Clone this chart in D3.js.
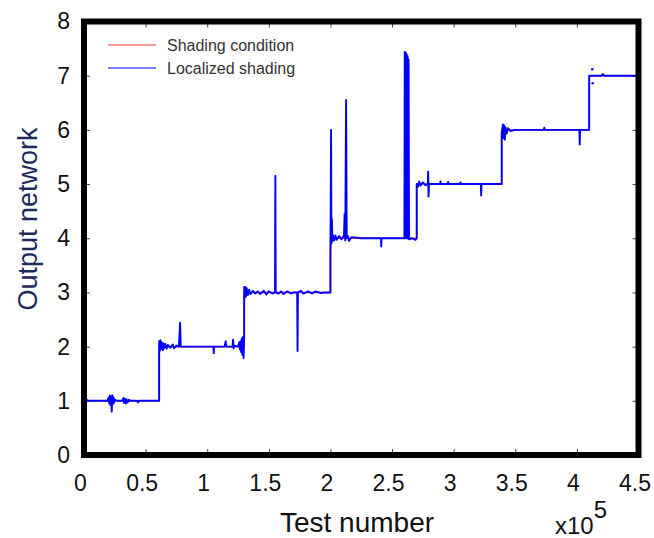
<!DOCTYPE html>
<html lang="en">
<head>
<meta charset="UTF-8">
<script src="https://d3js.org/d3.v7.min.js"></script>
<title>Output network</title>
<style>
  body { margin: 0; background: #fff; }
  .axis text { font-family: Arial, "Liberation Sans", sans-serif; font-size: 23px; fill: #111; }
  .axis line { stroke: #444; stroke-width: 1; }
  .legend text { font-family: Arial, "Liberation Sans", sans-serif; font-size: 16px; fill: #333; }
</style>
</head>
<body>
<script>
// x in units of 10^5 tests
var xTicks = [0, 0.5, 1, 1.5, 2, 2.5, 3, 3.5, 4, 4.5];
var yTicks = [0, 1, 2, 3, 4, 5, 6, 7, 8];

// shading condition (target steps)
var conditionX = [0, 0.61, 0.61, 1.30, 1.30, 2.0, 2.0, 2.70, 2.70, 3.39, 3.39, 4.10, 4.10, 4.5];
var conditionY = [1, 1, 2, 2, 3, 3, 4, 4, 5, 5, 6, 6, 7, 7];

// localized shading (network output)
var localized = [
  [0.00,1.00],[0.005,1.15],[0.01,0.98],[0.02,1.03],[0.03,1.0],[0.12,1.0],[0.19,1.0],
  [0.20,1.06],[0.205,0.95],[0.21,1.1],[0.215,0.92],[0.22,1.08],[0.225,0.80],[0.23,1.1],[0.235,0.94],[0.24,1.06],[0.245,0.97],[0.25,1.02],[0.27,1.0],
  [0.31,1.0],[0.32,1.05],[0.325,0.96],[0.33,1.04],[0.34,0.95],[0.345,1.03],[0.355,0.97],[0.365,1.02],[0.37,1.0],[0.43,1.0],[0.44,0.97],[0.445,1.0],[0.61,1.0],
  [0.61,2.10],[0.615,1.92],[0.62,2.12],[0.625,1.95],[0.63,2.08],[0.64,1.93],[0.645,2.06],[0.65,1.97],[0.66,2.05],[0.67,1.96],[0.68,2.03],[0.70,1.98],[0.72,2.04],[0.73,1.97],[0.75,2.02],[0.77,2.0],[0.78,2.44],[0.785,2.0],
  [0.95,2.0],[1.05,2.0],[1.053,1.88],[1.056,2.0],[1.14,2.0],[1.15,2.1],[1.155,2.0],[1.205,2.0],[1.21,2.13],[1.215,1.97],[1.22,2.02],
  [1.25,2.0],[1.26,2.08],[1.265,1.95],[1.27,2.1],[1.275,1.9],[1.28,2.15],[1.285,1.85],[1.29,2.18],[1.295,1.79],[1.30,2.2],
  [1.30,3.10],[1.305,2.9],[1.31,3.1],[1.315,2.93],[1.32,3.08],[1.33,2.95],[1.34,3.05],[1.35,2.97],[1.37,3.03],[1.39,2.98],[1.41,3.02],[1.43,2.97],[1.46,3.03],
  [1.48,2.96],[1.50,3.02],[1.53,2.98],[1.55,3.0],[1.553,5.15],[1.556,3.0],[1.58,2.98],[1.60,3.02],[1.62,2.97],[1.65,3.02],[1.68,2.98],[1.70,3.0],
  [1.73,3.0],[1.733,1.92],[1.736,3.0],[1.76,3.03],[1.78,2.98],[1.82,3.02],[1.85,2.98],[1.88,3.02],[1.92,2.99],[1.95,3.0],[2.0,3.0],
  [2.0,3.63],[2.005,6.0],[2.008,3.9],[2.012,4.35],[2.016,3.95],[2.02,4.06],[2.03,3.96],[2.04,4.05],[2.05,3.97],[2.07,4.04],[2.09,3.98],[2.11,4.05],
  [2.115,4.45],[2.12,3.96],[2.127,6.55],[2.132,4.0],[2.14,4.05],[2.15,3.95],[2.17,4.02],[2.25,4.0],[2.41,4.0],[2.412,3.85],[2.415,4.0],[2.5,4.0],[2.6,4.0],
  [2.603,7.44],[2.606,4.0],[2.610,7.43],[2.614,4.0],[2.618,7.40],[2.622,4.0],[2.626,7.36],[2.630,4.0],[2.634,7.30],[2.638,3.98],
  [2.66,4.0],[2.69,3.97],[2.70,4.0],
  [2.70,5.0],[2.71,4.95],[2.72,5.05],[2.73,4.97],[2.75,5.03],[2.77,4.98],[2.79,5.0],[2.793,5.23],[2.796,4.77],[2.80,5.0],[2.89,5.0],[2.893,5.05],[2.897,5.0],
  [2.95,5.0],[2.955,5.04],[2.96,5.0],[3.05,5.0],[3.055,5.03],[3.06,5.0],[3.22,5.0],[3.223,4.79],[3.226,5.0],[3.39,5.0],
  [3.39,5.95],[3.40,6.1],[3.405,5.85],[3.41,6.08],[3.415,5.82],[3.42,6.05],[3.43,5.93],[3.44,6.03],[3.46,5.98],[3.5,6.0],[3.73,6.0],[3.735,6.04],[3.74,6.0],
  [4.02,6.0],[4.023,5.73],[4.026,6.0],[4.10,6.0],
  [4.10,7.0],[4.20,7.0],[4.21,7.03],[4.22,7.0],[4.5,7.0]
];
// stray samples near the last step, drawn as dots
var strayX = [4.125, 4.128];
var strayY = [7.12, 6.86];

var width = 654, height = 538;
var plotLeft = 84, plotRight = 638.5, plotTop = 21.5, plotBottom = 455;

var x = d3.scaleLinear().domain([0, 4.5]).range([plotLeft, plotRight]);
var y = d3.scaleLinear().domain([0, 8]).range([plotBottom, plotTop]);

var svg = d3.select("body").append("svg")
    .attr("width", width)
    .attr("height", height);

var fmt = function(d) { return String(d); };

// inward ticks on all four sides
svg.append("g").attr("class", "axis")
    .attr("transform", "translate(" + plotLeft + ",0)")
    .call(d3.axisLeft(y).tickValues(yTicks).tickSizeInner(-6).tickSizeOuter(0).tickPadding(14).tickFormat(fmt));
svg.append("g").attr("class", "axis")
    .attr("transform", "translate(" + plotRight + ",0)")
    .call(d3.axisRight(y).tickValues(yTicks).tickSizeInner(-6).tickSizeOuter(0).tickFormat(""));
var xAxisG = svg.append("g").attr("class", "axis")
    .attr("transform", "translate(0," + plotBottom + ")")
    .call(d3.axisBottom(x).tickValues(xTicks).tickSizeInner(-6).tickSizeOuter(0).tickPadding(20).tickFormat(fmt));
xAxisG.selectAll("text").attr("dx", -4);
svg.append("g").attr("class", "axis")
    .attr("transform", "translate(0," + plotTop + ")")
    .call(d3.axisTop(x).tickValues(xTicks).tickSizeInner(-6).tickSizeOuter(0).tickFormat(""));
svg.selectAll(".axis .domain").remove();

// lines
var line = d3.line()
    .x(function(d) { return x(d[0]); })
    .y(function(d) { return y(d[1]); });

var condition = conditionX.map(function(v, i) { return [v, conditionY[i]]; });

svg.append("path")
    .datum(condition)
    .attr("fill", "none")
    .attr("stroke", "#ff3b3b")
    .attr("stroke-width", 1.5)
    .attr("d", line);

svg.append("path")
    .datum(localized)
    .attr("fill", "none")
    .attr("stroke", "#0000ff")
    .attr("stroke-width", 1.9)
    .attr("stroke-linejoin", "round")
    .attr("d", line);

svg.selectAll(".stray")
    .data(strayX)
  .enter().append("circle")
    .attr("class", "stray")
    .attr("cx", function(d) { return x(d); })
    .attr("cy", function(d, i) { return y(strayY[i]); })
    .attr("r", 1.3)
    .attr("fill", "#0000ff");

// frame
svg.append("rect")
    .attr("x", plotLeft)
    .attr("y", plotTop)
    .attr("width", plotRight - plotLeft)
    .attr("height", plotBottom - plotTop)
    .attr("fill", "none")
    .attr("stroke", "#000")
    .attr("stroke-width", 6);

// legend
var legend = svg.append("g").attr("class", "legend");
var entries = [["Shading condition", "#ff3b3b"], ["Localized shading", "#0000ff"]];
entries.forEach(function(e, i) {
  legend.append("line")
      .attr("x1", 108).attr("x2", 156)
      .attr("y1", 45 + i * 23).attr("y2", 45 + i * 23)
      .attr("stroke", e[1]).attr("stroke-width", 1.2);
  legend.append("text")
      .attr("x", 167)
      .attr("y", 45 + i * 23)
      .attr("dy", "0.35em")
      .text(e[0]);
});

// axis titles
svg.append("text")
    .attr("x", 357)
    .attr("y", 532)
    .attr("text-anchor", "middle")
    .style("font-family", "Arial, 'Liberation Sans', sans-serif")
    .style("font-size", "28px")
    .style("fill", "#111")
    .text("Test number");

svg.append("text")
    .attr("transform", "translate(37,219) rotate(-90)")
    .attr("text-anchor", "middle")
    .style("font-family", "Arial, 'Liberation Sans', sans-serif")
    .style("font-size", "27px")
    .style("fill", "#1f2a5c")
    .text("Output network");

var expo = svg.append("text")
    .attr("x", 555)
    .attr("y", 534)
    .style("font-family", "Arial, 'Liberation Sans', sans-serif")
    .style("font-size", "24px")
    .style("fill", "#111");
expo.append("tspan").text("x10");
expo.append("tspan").attr("dy", -16).text("5");
</script>
</body>
</html>
